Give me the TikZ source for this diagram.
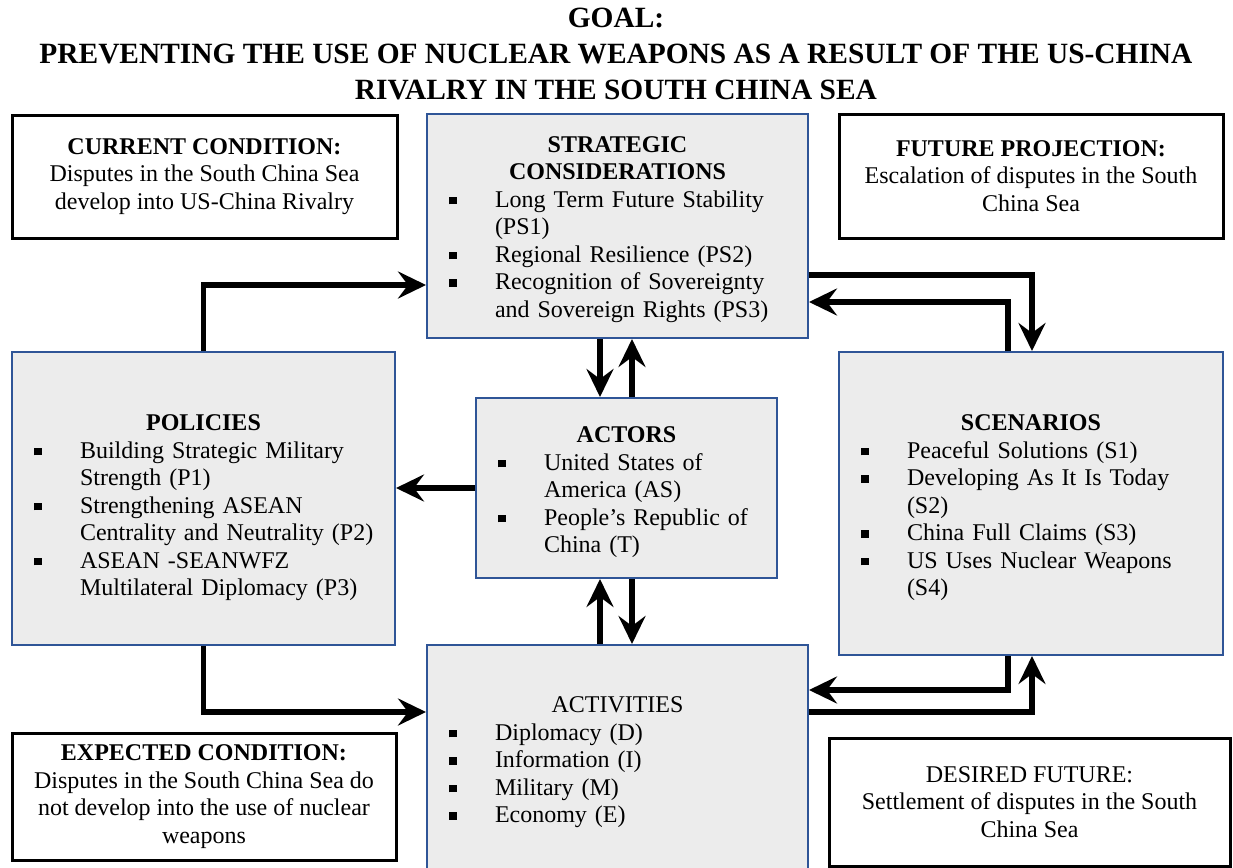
\documentclass[tikz,border=0pt]{standalone}
\usepackage{fontspec}
\setmainfont{Liberation Serif}
\usepackage{xcolor}
\definecolor{panelblue}{RGB}{47,85,151}
\definecolor{panelgrey}{RGB}{236,236,236}
\usetikzlibrary{arrows.meta,positioning}

% heading line (with a top strut) and square-bullet list inside a panel
\newcommand{\hdr}[2][0pt]{{\centering\bfseries\rule{0pt}{#1}#2\par}}
\newcommand{\bul}{\rule[1.5pt]{3.8pt}{3.8pt}}
\newenvironment{items}{\noindent\begin{tabular}[t]{@{}p{23pt}@{}l@{}}}{\end{tabular}\par}

\tikzset{
  panel/.style={draw=panelblue,line width=1pt,fill=panelgrey,inner sep=0pt,align=left},
  note/.style={draw=black,line width=1.5pt,fill=white,inner sep=0pt,align=center},
  flow/.style={line width=2.7pt,-{Stealth[length=14pt,width=13.5pt,inset=5pt]}}
}

\begin{document}
\begin{tikzpicture}[x=0.5pt,y=-0.5pt,font=\fontsize{12pt}{13.75pt}\selectfont]
  \path[use as bounding box,clip] (0,0) rectangle (1233,868);

  \node[font=\fontsize{14.7pt}{18pt}\selectfont\bfseries,align=center] (goal) at (616,54)
    {GOAL:\\PREVENTING THE USE OF NUCLEAR WEAPONS AS A RESULT OF THE US-CHINA\\RIVALRY IN THE SOUTH CHINA SEA};

  % corner notes
  \node[note,minimum width=192.5pt,minimum height=61.5pt] (cur) at (204.5,176.5)
    {\textbf{CURRENT CONDITION:}\\Disputes in the South China Sea\\develop into US-China Rivalry};
  \node[note,minimum width=192pt,minimum height=62pt] (fut) at (1031,176)
    {\textbf{FUTURE PROJECTION:}\\Escalation of disputes in the South\\China Sea};
  \node[note,minimum width=192pt,minimum height=63.5pt] (exp) at (204,796.5)
    {\textbf{EXPECTED CONDITION:}\\Disputes in the South China Sea do\\not develop into the use of nuclear\\weapons};
  \node[note,minimum width=200.5pt,minimum height=64pt] (des) at (1029.5,802)
    {DESIRED FUTURE:\\Settlement of disputes in the South\\China Sea};

  % grey panels
  \node[panel,minimum width=190.5pt,minimum height=112pt,text width=168.5pt] (strat) at (617.5,226) {%
    \hdr[13pt]{STRATEGIC\\CONSIDERATIONS}
    \begin{items}
      \bul & Long Term Future Stability\\ & (PS1)\\
      \bul & Regional Resilience (PS2)\\
      \bul & Recognition of Sovereignty\\ & and Sovereign Rights (PS3)
    \end{items}};
  \node[panel,minimum width=191.5pt,minimum height=146.5pt,text width=169.5pt] (pol) at (203.5,498.5) {%
    \hdr[19pt]{POLICIES}
    \begin{items}
      \bul & Building Strategic Military\\ & Strength (P1)\\
      \bul & Strengthening ASEAN\\ & Centrality and Neutrality (P2)\\
      \bul & ASEAN -SEANWFZ\\ & Multilateral Diplomacy (P3)
    \end{items}};
  \node[panel,minimum width=150.5pt,minimum height=90pt,text width=128.5pt] (act) at (626.5,488) {%
    \hdr[14pt]{ACTORS}
    \begin{items}
      \bul & United States of\\ & America (AS)\\
      \bul & People’s Republic of\\ & China (T)
    \end{items}};
  \node[panel,minimum width=192pt,minimum height=151.5pt,text width=170pt] (scen) at (1031,503.5) {%
    \hdr[14pt]{SCENARIOS}
    \begin{items}
      \bul & Peaceful Solutions (S1)\\
      \bul & Developing As It Is Today\\ & (S2)\\
      \bul & China Full Claims (S3)\\
      \bul & US Uses Nuclear Weapons\\ & (S4)
    \end{items}};
  \node[panel,minimum width=190.5pt,minimum height=115pt,text width=168.5pt] (acts) at (617.5,760) {%
    \hdr[12pt]{\mdseries ACTIVITIES}
    \begin{items}
      \bul & Diplomacy (D)\\
      \bul & Information (I)\\
      \bul & Military (M)\\
      \bul & Economy (E)
    \end{items}};

  % connectors
  \draw[flow] (pol.north) |- (strat.west |- 0,285);
  \draw[flow] (strat.east |- 0,275) -| (1032,0 |- scen.north);
  \draw[flow] (1008,0 |- scen.north) |- (strat.east |- 0,302);
  \draw[flow] (act.west) -- (pol.east |- act.west);
  \foreach \x/\a/\b in {600/strat.south/act.north,632/act.north/strat.south,
                        600/acts.north/act.south,632/act.south/acts.north}
    \draw[flow] (\x,0 |- \a) -- (\x,0 |- \b);
  \draw[flow] (pol.south) |- (acts.west |- 0,712);
  \draw[flow] (1008,0 |- scen.south) |- (acts.east |- 0,690);
  \draw[flow] (acts.east |- 0,712) -| (1032,0 |- scen.south);
\end{tikzpicture}
\end{document}
